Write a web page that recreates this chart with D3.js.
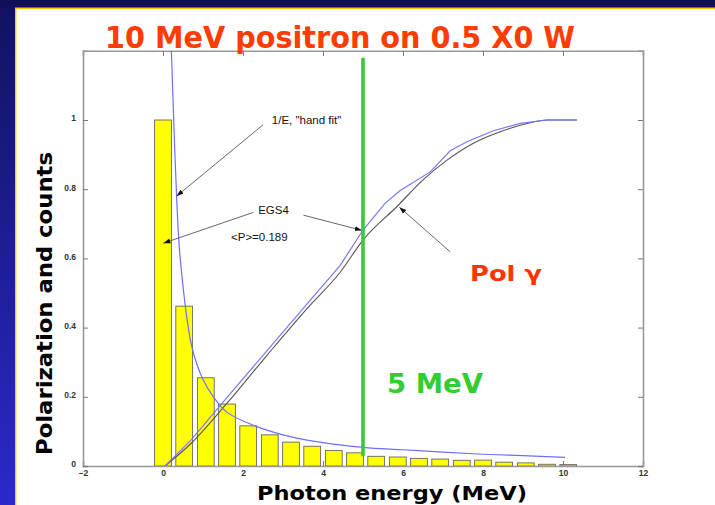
<!DOCTYPE html>
<html><head><meta charset="utf-8">
<script src="https://cdn.jsdelivr.net/npm/d3@7"></script>
<style>html,body{margin:0;padding:0;background:#fff;}svg{display:block;}</style>
</head><body>
<script>
// ---- data ----
const barEnergy = [0,0.53,1.07,1.6,2.13,2.67,3.2,3.73,4.27,4.8,5.33,5.87,6.4,6.93,7.47,8.0,8.53,9.07,9.6,10.13];
const barCounts = [1.0,0.462,0.255,0.179,0.116,0.09,0.069,0.057,0.045,0.038,0.028,0.026,0.022,0.02,0.0165,0.017,0.011,0.009,0.005,0.004];
const fitE = [0.21,0.25,0.34,0.43,0.72,1.0,1.26,1.6,2.3,3.0,3.6,5.0,6.0,7.0,8.0,9.0,10.05];
const fitV = [1.2,1.06,0.78,0.6,0.345,0.25,0.2,0.155,0.116,0.09,0.075,0.054,0.047,0.04,0.034,0.03,0.025];
const polBlueE = [0.05,0.7,1.47,2.5,3.5,4.43,5.0,5.55,5.93,6.68,7.18,7.6,8.26,8.93,9.6,10.35];
const polBlueV = [0,0.075,0.18,0.32,0.455,0.58,0.682,0.759,0.796,0.85,0.911,0.937,0.969,0.99,1.0,1.0];
const polBlackE = [0.05,0.7,1.59,2.6,3.6,4.43,5.0,5.85,6.5,7.1,7.76,8.43,9.1,9.6,10.35];
const polBlackV = [0,0.065,0.18,0.32,0.455,0.56,0.653,0.75,0.827,0.884,0.933,0.966,0.99,1.0,1.0];
const xTicks = [-2,0,2,4,6,8,10,12];
const yTicks = [0,0.2,0.4,0.6,0.8,1];
const markerE = 5;
const markerRange = [0.028,1.18];
const annotations = [
  {text:'1/E, "hand fit"', e:2.72, v:0.988},
  {text:'EGS4', e:2.38, v:0.728},
  {text:'<P>=0.189', e:1.7, v:0.65}
];
const arrows = [
  {e1:2.5,v1:0.986,e2:0.34,v2:0.78},
  {e1:2.26,v1:0.733,e2:0.01,v2:0.644},
  {e1:3.51,v1:0.725,e2:4.97,v2:0.681},
  {e1:7.18,v1:0.619,e2:5.91,v2:0.748}
];

// ---- drawing ----
const W=715,H=505;
const svg=d3.select('body').append('svg').attr('width',W).attr('height',H);
const defs=svg.append('defs');
const lg=defs.append('linearGradient').attr('id','lg').attr('x1',0).attr('y1',0).attr('x2',0).attr('y2',1);
lg.append('stop').attr('offset','0%').attr('stop-color','#12125e');
lg.append('stop').attr('offset','100%').attr('stop-color','#2b29cc');
defs.append('marker').attr('id','ah').attr('viewBox','0 0 10 10').attr('refX',10).attr('refY',5)
  .attr('markerWidth',7).attr('markerHeight',7).attr('orient','auto-start-reverse').attr('markerUnits','userSpaceOnUse')
  .append('path').attr('d','M0,1.5L10,5L0,8.5Z').attr('fill','#111');
defs.append('clipPath').attr('id','clip').append('rect').attr('x',83).attr('y',50.8).attr('width',560).attr('height',415.2);

svg.append('rect').attr('x',0).attr('y',0).attr('width',W).attr('height',H).attr('fill','url(#lg)');
svg.append('rect').attr('x',0).attr('y',0).attr('width',W).attr('height',8).attr('fill','#10105a');
svg.append('rect').attr('x',15).attr('y',7.5).attr('width',W-15).attr('height',H).attr('fill','#ffcc00');
svg.append('rect').attr('x',16.5).attr('y',9).attr('width',W-16.5).attr('height',H).attr('fill','#ffffff');

const x=d3.scaleLinear().domain([-2,12]).range([83,643]);
const y=d3.scaleLinear().domain([0,1.2]).range([466,50.8]);

// axes
const gx=svg.append('g').attr('transform',`translate(0,${y(0)})`)
  .call(d3.axisBottom(x).tickValues(xTicks).tickSize(-5).tickPadding(4).tickFormat(d3.format('d')));
const gxt=svg.append('g').attr('transform',`translate(0,${y(1.2)})`)
  .call(d3.axisTop(x).tickValues(xTicks).tickSize(-5).tickFormat(''));
const gy=svg.append('g').attr('transform',`translate(${x(-2)},0)`)
  .call(d3.axisLeft(y).tickValues(yTicks).tickSize(-5).tickPadding(7).tickFormat(d=>d===0?'0':d===1?'1':d3.format('.1f')(d)));
const gyr=svg.append('g').attr('transform',`translate(${x(12)},0)`)
  .call(d3.axisRight(y).tickValues(yTicks).tickSize(-5).tickFormat(''));
[gx,gxt,gy,gyr].forEach(g=>{
  g.select('.domain').attr('stroke','#999').attr('stroke-width',1.6);
  g.selectAll('.tick line').attr('stroke','#777').attr('stroke-width',1);
  g.selectAll('.tick text').attr('font-family','Liberation Sans, Arial, sans-serif').attr('font-size',8.5).attr('font-weight','bold').attr('fill','#333');
});
gy.selectAll('.tick text').attr('dy','0.1em');

const plot=svg.append('g').attr('clip-path','url(#clip)');
// bars
const bw=0.42;
plot.selectAll('rect.bar').data(barEnergy).enter().append('rect').attr('class','bar')
  .attr('x',d=>x(d-bw/2)).attr('width',d=>x(d+bw/2)-x(d-bw/2))
  .attr('y',(d,i)=>y(barCounts[i])).attr('height',(d,i)=>y(0)-y(barCounts[i]))
  .attr('fill','#ffff00').attr('stroke','#666').attr('stroke-width',0.9);

const line=d3.line().x(d=>x(d[0])).y(d=>y(d[1])).curve(d3.curveMonotoneX);
plot.append('path').datum(polBlackE.map((e,i)=>[e,polBlackV[i]])).attr('d',line)
  .attr('fill','none').attr('stroke','#555').attr('stroke-width',1.1);
plot.append('path').datum(polBlueE.map((e,i)=>[e,polBlueV[i]])).attr('d',d3.line().x(d=>x(d[0])).y(d=>y(d[1])))
  .attr('fill','none').attr('stroke','#7878ff').attr('stroke-width',1.2);
plot.append('path').datum(fitE.map((e,i)=>[e,fitV[i]])).attr('d',d3.line().x(d=>x(d[0])).y(d=>y(d[1])).curve(d3.curveCatmullRom))
  .attr('fill','none').attr('stroke','#6e6eff').attr('stroke-width',1.2);

// annotations
svg.selectAll('line.arr').data(arrows).enter().append('line').attr('class','arr')
  .attr('x1',d=>x(d.e1)).attr('y1',d=>y(d.v1)).attr('x2',d=>x(d.e2)).attr('y2',d=>y(d.v2))
  .attr('stroke','#555').attr('stroke-width',0.9).attr('marker-end','url(#ah)');
svg.selectAll('text.ann').data(annotations).enter().append('text').attr('class','ann')
  .attr('x',d=>x(d.e)).attr('y',d=>y(d.v)).text(d=>d.text)
  .attr('font-family','Liberation Sans, Arial, sans-serif').attr('font-size',11.5).attr('fill','#111');

// green 5 MeV line
svg.append('line').attr('x1',x(markerE)).attr('x2',x(markerE)).attr('y1',y(markerRange[1])).attr('y2',y(markerRange[0]))
  .attr('stroke','#33cc33').attr('stroke-width',3.6);

// big texts
const big='DejaVu Sans, Verdana, sans-serif';
svg.append('text').attr('x',105).attr('y',48).text('10 MeV positron on 0.5 X0 W')
  .attr('font-family',big).attr('font-weight','bold').attr('font-size',31).attr('fill','#ff3c00')
  .attr('textLength',470).attr('lengthAdjust','spacingAndGlyphs');
svg.append('text').attr('x',470).attr('y',281).text('Pol γ')
  .attr('font-family',big).attr('font-weight','bold').attr('font-size',22).attr('fill','#ff3300')
  .attr('textLength',72).attr('lengthAdjust','spacingAndGlyphs');
svg.append('text').attr('x',387).attr('y',393).text('5 MeV')
  .attr('font-family',big).attr('font-weight','bold').attr('font-size',26).attr('fill','#33cc33')
  .attr('textLength',96).attr('lengthAdjust','spacingAndGlyphs');
svg.append('text').attr('x',257).attr('y',500).text('Photon energy (MeV)')
  .attr('font-family',big).attr('font-weight','bold').attr('font-size',19.5).attr('fill','#000')
  .attr('textLength',270).attr('lengthAdjust','spacingAndGlyphs');
svg.append('text').attr('transform','translate(52,455) rotate(-90)').text('Polarization and counts')
  .attr('font-family',big).attr('font-weight','bold').attr('font-size',21).attr('fill','#000')
  .attr('textLength',303).attr('lengthAdjust','spacingAndGlyphs');
</script>
</body></html>
